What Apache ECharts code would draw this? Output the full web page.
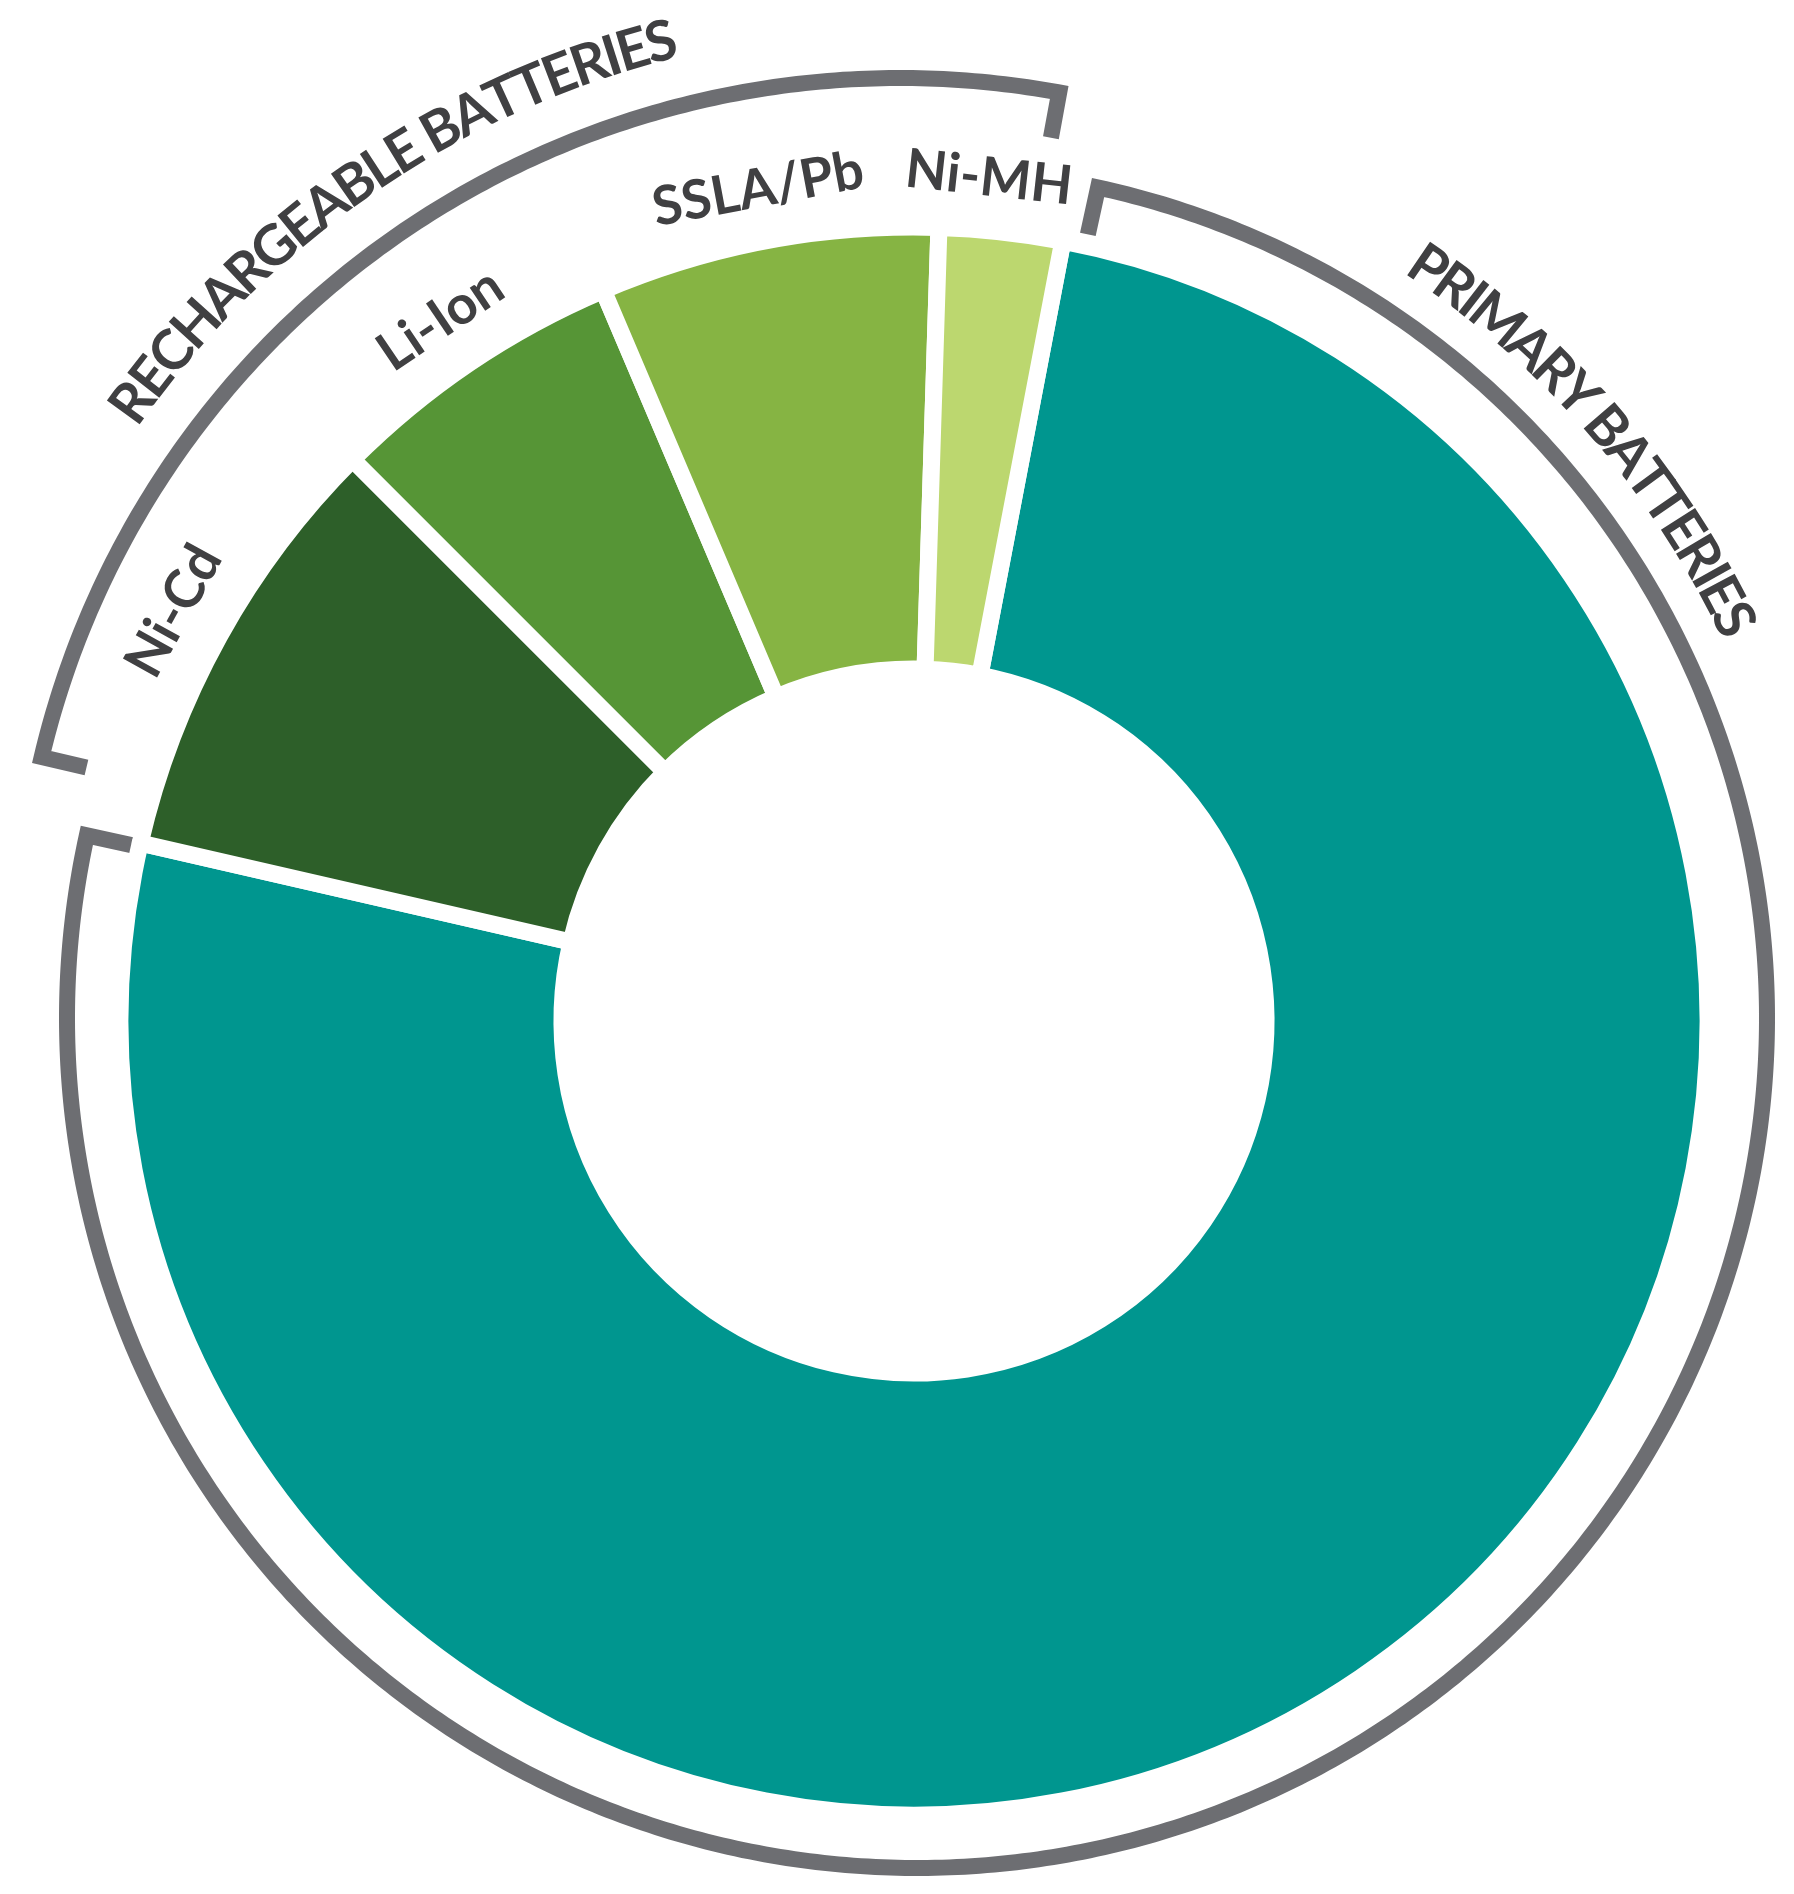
<!DOCTYPE html>
<html>
<head>
<meta charset="utf-8">
<title>Battery types</title>
<script src="https://cdn.jsdelivr.net/npm/echarts@6/dist/echarts.min.js"></script>
<style>
  html, body { margin: 0; padding: 0; background: #fff; }
  #chart { width: 1794px; height: 1894px; }
</style>
</head>
<body>
<div id="chart"></div>
<script>
  // data, clockwise from the top
  var categories = ["Primary", "Ni-Cd", "Li-Ion", "SSLA/Pb", "Ni-MH"];
  var shares = [75.6, 8.9, 6.1, 6.9, 2.5];
  var groupNames = ["PRIMARY BATTERIES", "RECHARGEABLE BATTERIES"];
  var groupOf = [0, 1, 1, 1, 1];

  var palette = ["#00968F", "#2D5F29", "#569536", "#86B443", "#BCD76F"];
  var grey = "#6D6E72";
  var ink = "#404042";

  var CX = 914, CY = 1021;
  var START = 10.8; // degrees clockwise from 12 o'clock

  function pol(cx, cy, r, deg) {
    var a = deg * Math.PI / 180;
    return [cx + r * Math.sin(a), cy - r * Math.cos(a)];
  }

  // angular range of each group from the data
  function groupRange(g) {
    var total = shares.reduce(function (s, v) { return s + v; }, 0);
    var acc = START, from = null, to = null;
    for (var i = 0; i < shares.length; i++) {
      var next = acc + shares[i] / total * 360;
      if (groupOf[i] === g) {
        if (from === null) from = acc;
        to = next;
      }
      acc = next;
    }
    return [from, to];
  }

  function bracket(cx, cy, r, a0, a1, tick) {
    var pts = [pol(cx, cy, r - tick, a0)];
    for (var a = a0; a < a1; a += 0.5) pts.push(pol(cx, cy, r, a));
    pts.push(pol(cx, cy, r, a1));
    pts.push(pol(cx, cy, r - tick, a1));
    return {
      type: "polyline",
      silent: true,
      shape: { points: pts },
      style: { stroke: grey, lineWidth: 16, fill: null, lineJoin: "miter", lineCap: "butt" }
    };
  }

  var measure = document.createElement("canvas").getContext("2d");
  function arcText(str, cx, cy, r, midDeg, spanDeg, font) {
    measure.font = font;
    var chars = str.split("");
    var w = chars.map(function (c) { return measure.measureText(c).width; });
    var natural = 0;
    for (var i = 1; i < w.length; i++) natural += w[i - 1] / 2 + w[i] / 2;
    var target = spanDeg * Math.PI / 180 * r;
    var gap = (target - natural) / (w.length - 1);
    var out = [], s = -target / 2;
    for (var k = 0; k < chars.length; k++) {
      if (k > 0) s += w[k - 1] / 2 + gap + w[k] / 2;
      var deg = midDeg + s / r * 180 / Math.PI;
      var p = pol(cx, cy, r, deg);
      out.push({
        type: "text",
        silent: true,
        x: p[0], y: p[1],
        rotation: -deg * Math.PI / 180,
        style: {
          text: chars[k], font: font, fill: ink,
          align: "center", verticalAlign: "middle",
          textAlign: "center", textVerticalAlign: "middle"
        }
      });
    }
    return out;
  }

  var primary = groupRange(0);
  var recharge = groupRange(1);
  var bigFont = "bold 56px Lato";

  var graphics = [
    bracket(CX + 3, CY - 3, 850, primary[0] + 1.5, primary[1] - 0.55, 48),
    bracket(CX - 14, CY - 61, 882, recharge[0] + 0.35, recharge[1] - 0.4, 46)
  ]
    .concat(arcText(groupNames[0], CX, CY, 912, 49.1, 29.6, bigFont))
    .concat(arcText(groupNames[1], CX - 14, CY - 61, 948, 325.7, 39.4, bigFont));

  var chart = echarts.init(document.getElementById("chart"));
  chart.setOption({
    animation: false,
    backgroundColor: "#fff",
    series: [
      {
        type: "pie",
        silent: true,
        center: [CX, CY],
        radius: [352, 794],
        startAngle: 90 - START,
        clockwise: true,
        label: { show: false },
        labelLine: { show: false },
        emphasis: { disabled: true },
        itemStyle: { borderColor: "#fff", borderWidth: 17 },
        data: categories.map(function (c, i) {
          return { name: c, value: shares[i], itemStyle: { color: palette[i] } };
        })
      },
      {
        // invisible ring that only carries the slice names
        type: "pie",
        silent: true,
        center: [CX, CY],
        radius: [813, 873],
        startAngle: 90 - START,
        clockwise: true,
        emphasis: { disabled: true },
        itemStyle: { color: "transparent" },
        labelLine: { show: false },
        label: {
          show: true,
          position: "inside",
          rotate: "tangential",
          formatter: "{b}",
          fontFamily: "Lato",
          fontWeight: "bold",
          fontSize: 54,
          color: ink
        },
        data: categories.map(function (c, i) {
          var lab = { show: groupOf[i] === 1 };
          // the last name sits a little left of its slice, clear of the bracket end
          if (c === "Ni-MH") lab.padding = [0, 36, 0, 0];
          return { name: c, value: shares[i], label: lab };
        })
      }
    ],
    graphic: graphics
  });
</script>
</body>
</html>
